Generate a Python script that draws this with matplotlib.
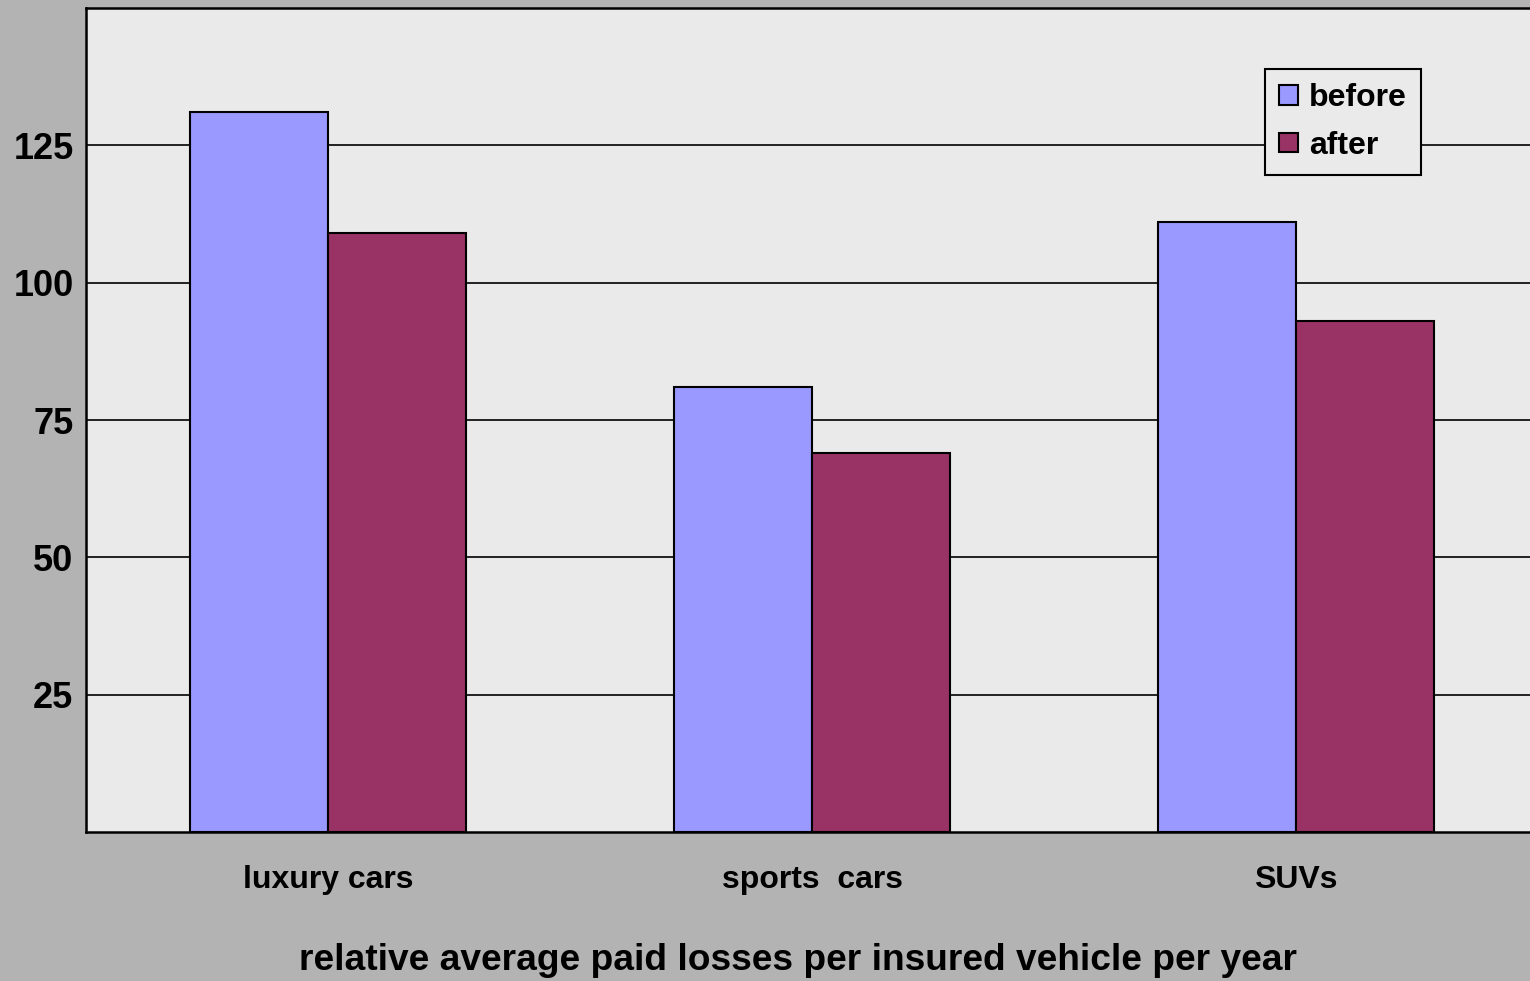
import matplotlib
matplotlib.use("Agg")
import matplotlib.pyplot as plt
import numpy as np

categories = ["luxury cars", "sports  cars", "SUVs"]
before = [131, 81, 111]
after = [109, 69, 93]
yticks = [25, 50, 75, 100, 125]

plt.rcParams['font.family'] = ['Liberation Sans', 'DejaVu Sans']
plt.rcParams['font.weight'] = 'bold'

fig = plt.figure(figsize=(15.3, 9.81), dpi=100, facecolor='#b3b3b3')
ax = fig.add_axes([86/1530, 149/981, 1452/1530, 824/981])
ax.set_facecolor('#eaeaea')

x = np.arange(len(categories))
w = 138/484
ax.bar(x - w/2, before, w, color='#9999ff', edgecolor='black', linewidth=1.5, label='before', zorder=3)
ax.bar(x + w/2, after, w, color='#993366', edgecolor='black', linewidth=1.5, label='after', zorder=3)

ax.set_xlim(-0.5, 2.5)
ax.set_ylim(0, 150)
ax.set_yticks(yticks)
ax.set_yticklabels([str(t) for t in yticks], fontsize=26, fontweight='bold')
ax.set_xticks(x)
ax.set_xticklabels(categories, fontsize=23, fontweight='bold')
ax.tick_params(axis='both', length=0)
ax.tick_params(axis='y', pad=9)
ax.tick_params(axis='x', pad=23.5)
ax.yaxis.grid(True, color='black', linewidth=1.2, zorder=0)
ax.set_axisbelow(True)
for s in ['top', 'left', 'bottom', 'right']:
    ax.spines[s].set_linewidth(1.8)
    ax.spines[s].set_color('black')

leg = ax.legend(loc='upper left', bbox_to_anchor=(1265/1530, 1 - 69/981), bbox_transform=fig.transFigure,
                borderaxespad=0, prop={'weight': 'bold', 'size': 23},
                handlelength=0.57, handleheight=0.57, handletextpad=0.35, labelspacing=0.55,
                borderpad=0.45, fancybox=False, framealpha=1, facecolor='#eaeaea', edgecolor='black')
leg.get_frame().set_linewidth(1.5)

fig.text(798/1530, 1 - 961/981, 'relative average paid losses per insured vehicle per year',
         ha='center', va='center', fontsize=26.7, fontweight='bold')

fig.savefig('out.png', dpi=100, facecolor=fig.get_facecolor())
